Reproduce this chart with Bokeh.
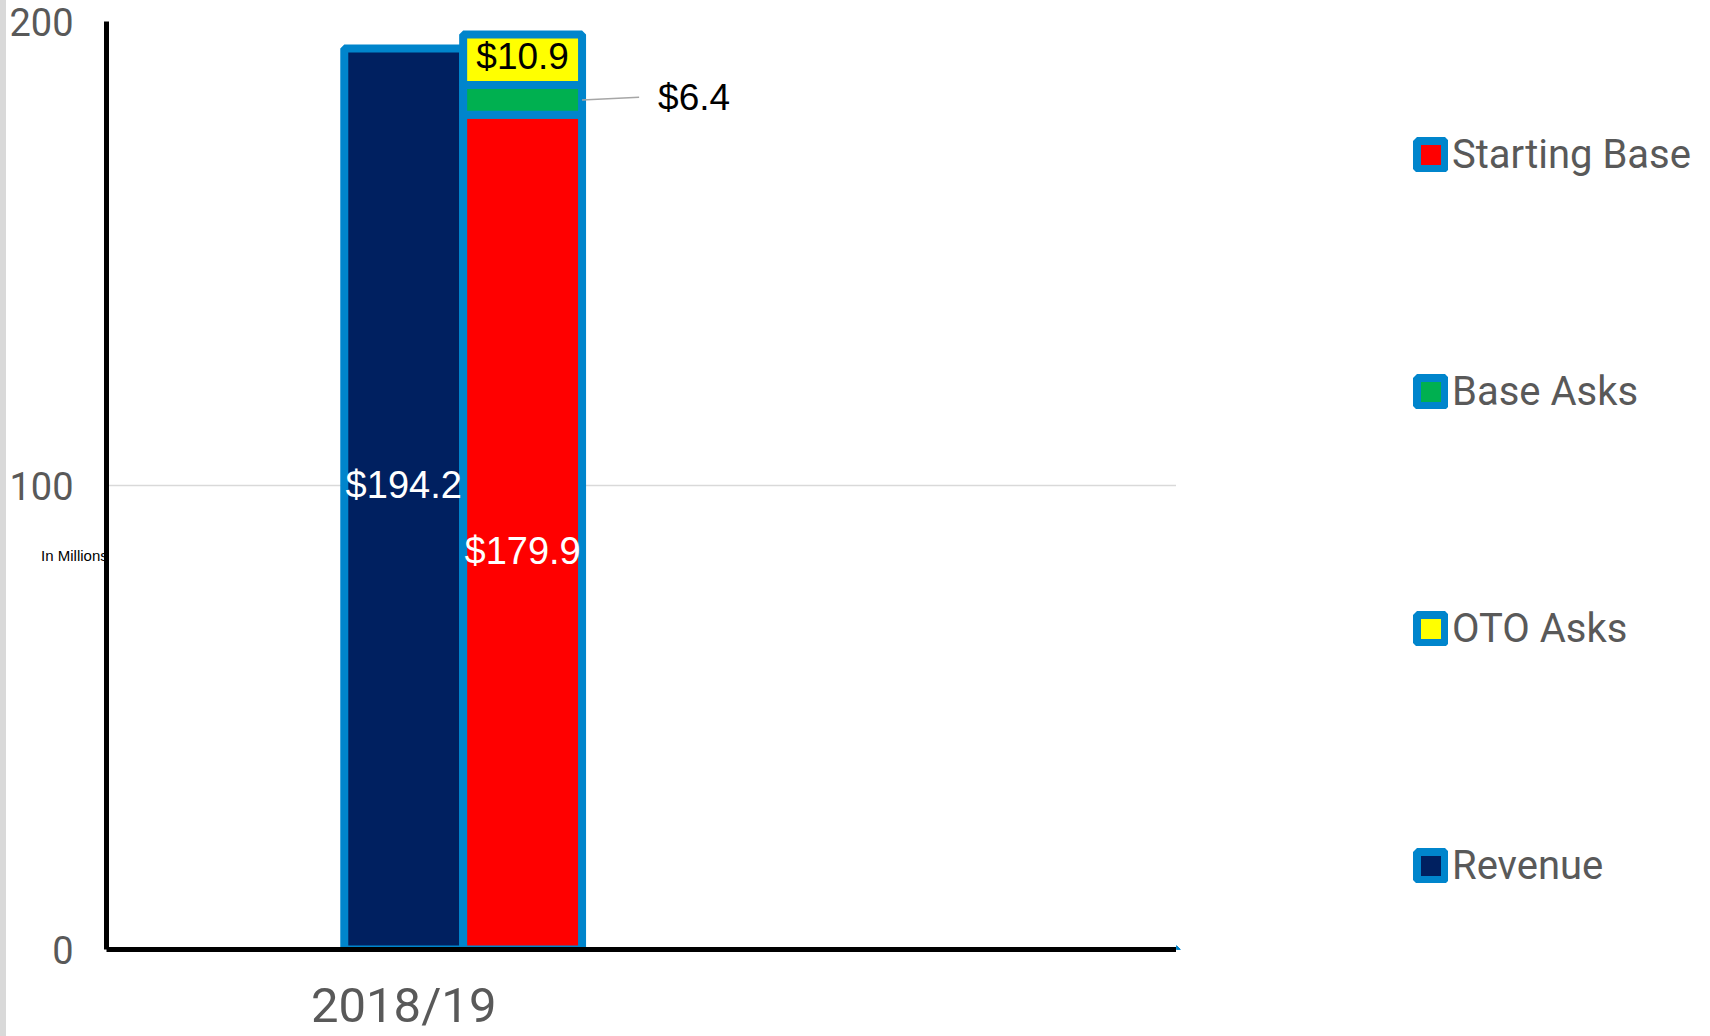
from bokeh.plotting import figure
from bokeh.models import (ColumnDataSource, Range1d, FixedTicker, Legend, LegendItem,
                          Label, Div)
from bokeh.layouts import row
from bokeh.embed import file_html
from bokeh.resources import INLINE
from bokeh.core.properties import value

# ---- data ----
categories = ["2018/19"]
revenue = [194.2]
starting_base = [179.9]
base_asks = [6.4]
oto_asks = [10.9]
y_ticks = [0, 100, 200]
legend_labels = ["Starting Base", "Base Asks", "OTO Asks", "Revenue"]

BORDER = "#0085CC"
NAVY = "#002060"
RED = "#FF0000"
GREEN = "#00B050"
YELLOW = "#FFFF00"
GREY_TXT = "#595959"

idx = list(range(len(categories)))
x_rev = [i * 9 + 0 for i in idx]
x_stk = [i * 9 + 1 for i in idx]
sb_top = starting_base
ba_top = [a + b for a, b in zip(starting_base, base_asks)]
oto_top = [a + b for a, b in zip(ba_top, oto_asks)]

src = ColumnDataSource(dict(
    x_rev=x_rev, x_stk=x_stk, rev=revenue, sb=starting_base, ba=base_asks, oto=oto_asks,
    sb_top=sb_top, ba_top=ba_top, oto_top=oto_top,
    rev_mid=[v / 2 for v in revenue], sb_mid=[v / 2 for v in starting_base],
    ba_mid=[(a + b) / 2 for a, b in zip(sb_top, ba_top)],
    oto_mid=[(a + b) / 2 for a, b in zip(ba_top, oto_top)],
    rev_lbl=[f"${v:.1f}" for v in revenue], sb_lbl=[f"${v:.1f}" for v in starting_base],
    ba_lbl=[f"${v:.1f}" for v in base_asks], oto_lbl=[f"${v:.1f}" for v in oto_asks],
    lead_x0=[x + 0.5 for x in x_stk], lead_x1=[x + 0.98 for x in x_stk],
    lead_y1=[(a + b) / 2 + 0.6 for a, b in zip(sb_top, ba_top)],
    lbl6_x=[x + 0.5 for x in x_stk],
))

p = figure(width=1170, height=1036, output_backend="svg", toolbar_location=None,
           x_range=Range1d(-2.5, 6.5), y_range=Range1d(0, 200),
           min_border_left=99, min_border_right=0, min_border_top=21, min_border_bottom=85)
p.outline_line_color = None
p.background_fill_color = "white"
p.border_fill_color = "white"

bar_style = dict(line_color=BORDER, line_width=8)
r_rev = p.vbar(x="x_rev", top="rev", bottom=0, width=1, source=src, fill_color=NAVY, **bar_style)
r_sb = p.vbar(x="x_stk", top="sb_top", bottom=0, width=1, source=src, fill_color=RED, **bar_style)
r_ba = p.vbar(x="x_stk", top="ba_top", bottom="sb_top", width=1, source=src,
              fill_color=GREEN, **bar_style)
r_oto = p.vbar(x="x_stk", top="oto_top", bottom="ba_top", width=1, source=src,
               fill_color=YELLOW, **bar_style)

lbl_font = value("Liberation Sans")
p.text(x="x_rev", y="rev_mid", text="rev_lbl", source=src, text_color="white",
       text_font=lbl_font, text_font_size="38px", text_align="center",
       text_baseline="middle", y_offset=-14)
p.text(x="x_stk", y="sb_mid", text="sb_lbl", source=src, text_color="white",
       text_font=lbl_font, text_font_size="38px", text_align="center",
       text_baseline="middle", y_offset=19)
p.text(x="x_stk", y="oto_mid", text="oto_lbl", source=src, text_color="black",
       text_font=lbl_font, text_font_size="37px", text_align="center",
       text_baseline="middle", y_offset=-3)
p.segment(x0="lead_x0", y0="ba_mid", x1="lead_x1", y1="lead_y1", source=src,
          line_color="#A6A6A6", line_width=1.5)
p.text(x="lbl6_x", y="ba_mid", text="ba_lbl", source=src, text_color="black",
       text_font=lbl_font, text_font_size="37px", text_align="left",
       text_baseline="middle", x_offset=76, y_offset=-2)

# axes
p.xaxis.ticker = FixedTicker(ticks=x_rev)
p.xaxis.major_label_overrides = {x: c for x, c in zip(x_rev, categories)}
p.yaxis.ticker = FixedTicker(ticks=y_ticks)
for ax in (p.xaxis[0], p.yaxis[0]):
    ax.axis_line_color = "black"
    ax.axis_line_width = 5
    ax.major_tick_line_color = None
    ax.minor_tick_line_color = None
    ax.major_tick_out = 0
    ax.major_tick_in = 0
    ax.major_label_text_color = GREY_TXT
    ax.major_label_text_font = "Roboto"
p.xaxis.major_label_text_font_size = "49px"
p.xaxis.major_label_standoff = 27
p.yaxis.major_label_text_font_size = "38px"
p.yaxis.major_label_standoff = 33

p.xgrid.grid_line_color = None
p.ygrid.ticker = FixedTicker(ticks=y_ticks)
p.ygrid.grid_line_color = "#D9D9D9"
p.ygrid.grid_line_width = 1.5

p.add_layout(Label(x=-3.05, y=85, text="In Millions",
                   text_font="Liberation Sans", text_font_size="15px", text_color="black",
                   text_baseline="middle", text_align="left"), "above")

# ---- legend panel (separate figure on the right) ----
lf = figure(width=534, height=1036, output_backend="svg", toolbar_location=None,
            x_range=Range1d(0, 1), y_range=Range1d(0, 1),
            x_axis_location=None, y_axis_location=None, min_border=0)
lf.outline_line_color = None
lf.xgrid.grid_line_color = None
lf.ygrid.grid_line_color = None
lf.border_fill_color = "white"
# legend key renderers: a single zero-size bar far outside the visible range
key_src = ColumnDataSource(dict(x=[-50], top=[-50], bottom=[-50]))
leg_fills = [RED, GREEN, YELLOW, NAVY]
leg_renderers = [lf.vbar(x="x", top="top", bottom="bottom", width=0.01, source=key_src,
                         fill_color=c, **bar_style) for c in leg_fills]

legend = Legend(items=[LegendItem(label=lab, renderers=[r])
                       for lab, r in zip(legend_labels, leg_renderers)],
                location=(237, 60), orientation="vertical")
legend.padding = 0
legend.margin = 0
legend.border_line_color = None
legend.background_fill_alpha = 0
legend.glyph_width = 35
legend.glyph_height = 35
legend.label_height = 40
legend.label_standoff = 4
legend.spacing = 190
legend.label_text_font = "Roboto"
legend.label_text_font_size = "40px"
legend.label_text_color = GREY_TXT
lf.add_layout(legend, "center")

stripe = Div(width=6, height=1036, margin=0, styles={"background-color": "#D9D9D9"})
layout = row(stripe, p, lf, spacing=0)

open("out.html", "w").write(file_html(layout, INLINE))
